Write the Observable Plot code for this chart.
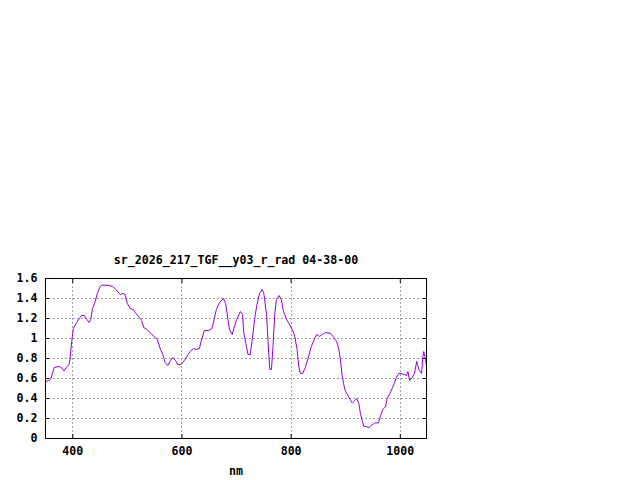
<!DOCTYPE html>
<html>
<head>
<meta charset="utf-8">
<script src="https://cdn.jsdelivr.net/npm/d3@7"></script>
<script src="https://cdn.jsdelivr.net/npm/@observablehq/plot@0.6"></script>
<style>
  html, body { margin: 0; padding: 0; background: #fff; }
  #chart svg { display: block; }
</style>
</head>
<body>
<div id="chart"></div>
<script>
const title = "sr_2026_217_TGF__y03_r_rad 04-38-00";
const xLabel = "nm";

const wavelength = [
  350, 357, 360, 366, 375, 379, 384, 388, 393, 395, 398, 401, 406, 412, 416, 421, 426, 430, 433, 436,
  440, 445, 450, 454, 467, 473, 479, 487, 492, 496, 500, 505, 511, 516, 522, 526, 530, 536, 545, 551,
  555, 560, 565, 569, 574, 579, 583, 588, 592, 598, 603, 609, 615, 621, 626, 632, 635, 641, 649, 655,
  659, 663, 669, 676, 680, 684, 687, 692, 696, 701, 707, 711, 713, 717, 721, 725, 729, 733, 737, 742,
  747, 750, 755, 759, 761, 764, 767, 770, 773, 778, 782, 786, 791, 796, 802, 806, 811, 814, 817, 821,
  826, 831, 837, 843, 847, 852, 857, 863, 872, 877, 882, 884, 887, 890, 893, 896, 899, 904, 907, 912,
  916, 920, 924, 927, 930, 933, 939, 943, 946, 953, 960, 964, 968, 973, 976, 981, 985, 989, 992, 997,
  1001, 1008, 1011, 1014, 1017, 1022, 1026, 1030, 1032, 1035, 1039, 1041, 1043, 1045, 1048
];
const radiance = [
  0.57, 0.58, 0.60, 0.71, 0.72, 0.71, 0.676, 0.71, 0.74, 0.80, 0.97, 1.10, 1.15, 1.20, 1.23, 1.23, 1.19, 1.16, 1.19, 1.30,
  1.35, 1.45, 1.52, 1.535, 1.53, 1.52, 1.49, 1.44, 1.45, 1.44, 1.35, 1.30, 1.29, 1.25, 1.21, 1.18, 1.11, 1.09, 1.04, 1.01,
  0.99, 0.90, 0.84, 0.76, 0.73, 0.78, 0.81, 0.78, 0.74, 0.74, 0.77, 0.82, 0.87, 0.90, 0.89, 0.90, 0.97, 1.08, 1.08, 1.10,
  1.19, 1.29, 1.36, 1.40, 1.35, 1.20, 1.09, 1.04, 1.12, 1.20, 1.27, 1.24, 1.07, 0.95, 0.84, 0.84, 1.00, 1.19, 1.33, 1.45,
  1.49, 1.45, 1.24, 0.84, 0.69, 0.69, 0.94, 1.24, 1.39, 1.43, 1.39, 1.27, 1.20, 1.15, 1.09, 1.04, 0.89, 0.72, 0.65, 0.65,
  0.71, 0.80, 0.92, 1.00, 1.04, 1.02, 1.04, 1.06, 1.05, 1.02, 0.98, 0.96, 0.90, 0.80, 0.65, 0.55, 0.48, 0.43, 0.40, 0.356,
  0.376, 0.40, 0.35, 0.25, 0.183, 0.123, 0.116, 0.11, 0.126, 0.156, 0.156, 0.233, 0.29, 0.32, 0.40, 0.45, 0.50, 0.55, 0.60, 0.65,
  0.65, 0.64, 0.63, 0.67, 0.58, 0.61, 0.65, 0.77, 0.73, 0.68, 0.65, 0.80, 0.87, 0.82, 0.73
];

const xTicks = [400, 600, 800, 1000];
const xTickLabels = ["400", "600", "800", "1000"];
const yTicks = [0, 0.2, 0.4, 0.6, 0.8, 1.0, 1.2, 1.4, 1.6];
const yTickLabels = ["0", "0.2", "0.4", "0.6", "0.8", "1", "1.2", "1.4", "1.6"];

const data = wavelength.map((w, i) => ({w, v: radiance[i]}));
const xFmt = d => xTickLabels[xTicks.indexOf(d)];
const yFmt = d => yTickLabels[yTicks.findIndex(t => Math.abs(t - d) < 1e-9)];

const font = "'DejaVu Sans Mono', 'Liberation Mono', monospace";

const chart = Plot.plot({
  width: 640,
  height: 480,
  marginLeft: 45,
  marginRight: 214,
  marginTop: 278,
  marginBottom: 42,
  style: {fontFamily: font, fontSize: "11.6px", fontWeight: "bold", color: "black", background: "white"},
  x: {domain: [350, 1048]},
  y: {domain: [0, 1.6]},
  marks: [
    Plot.gridX(xTicks, {stroke: "#a0a0a0", strokeOpacity: 1, strokeDasharray: "2,2", shapeRendering: "crispEdges"}),
    Plot.gridY(yTicks, {stroke: "#a0a0a0", strokeOpacity: 1, strokeDasharray: "2,2", shapeRendering: "crispEdges"}),
    Plot.axisX(xTicks, {anchor: "bottom", tickSize: -4, tickPadding: 12, tickFormat: xFmt, label: null, fontWeight: "bold"}),
    Plot.axisX(xTicks, {anchor: "top", tickSize: -4, tickFormat: () => "", label: null}),
    Plot.axisY(yTicks, {anchor: "left", tickSize: -4, tickPadding: 12, tickFormat: yFmt, label: null, fontWeight: "bold"}),
    Plot.axisY(yTicks, {anchor: "right", tickSize: -4, tickFormat: () => "", label: null}),
    Plot.line(data, {x: "w", y: "v", stroke: "#9400d3", strokeWidth: 1}),
    Plot.frame({stroke: "black", strokeWidth: 1}),
    Plot.text([title], {frameAnchor: "top", lineAnchor: "middle", dy: -18, fontWeight: "bold", fontSize: 11.6, fill: "black"}),
    Plot.text([xLabel], {frameAnchor: "bottom", lineAnchor: "middle", dy: 33, fontWeight: "bold", fontSize: 11.6, fill: "black"})
  ]
});
document.getElementById("chart").appendChild(chart);
</script>
</body>
</html>
